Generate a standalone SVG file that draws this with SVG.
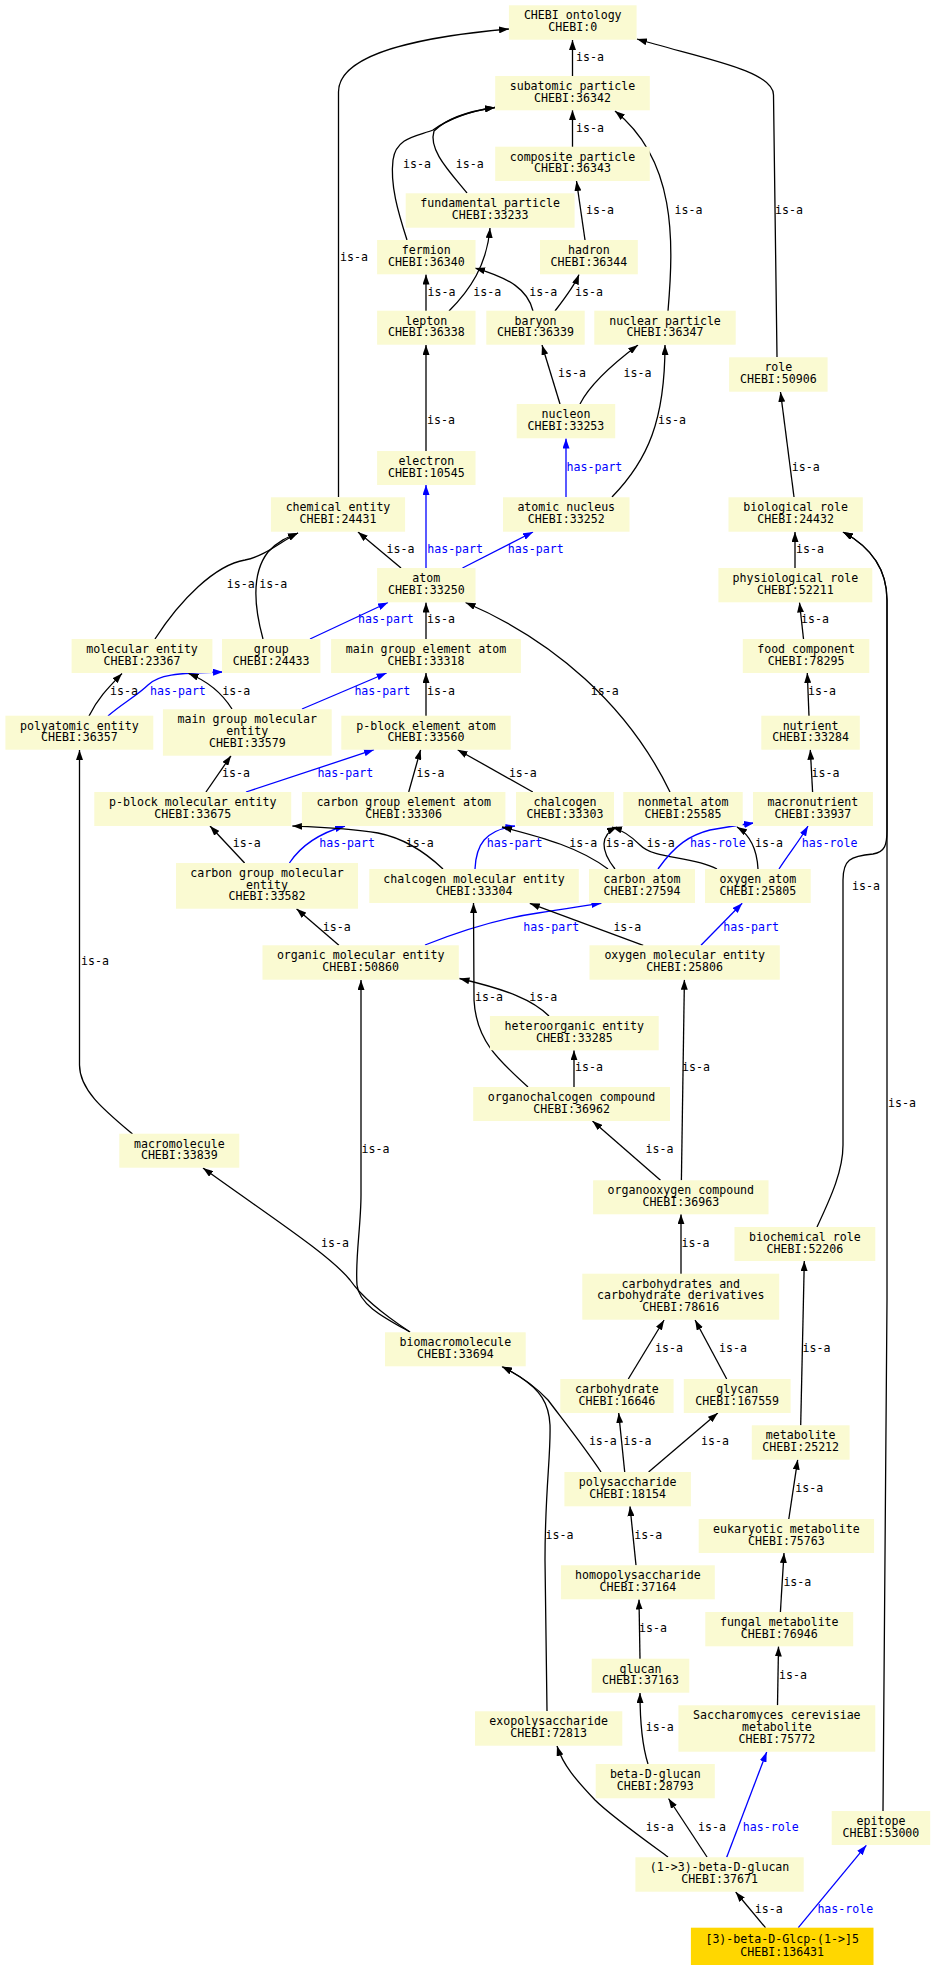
<svg xmlns="http://www.w3.org/2000/svg" width="935" height="1971" viewBox="0 0 935 1971">
<style>
.n rect{fill:#FAFAD2;stroke:none}
.g rect{fill:#FFD700}
.n text,.l text{font-family:"DejaVu Sans Mono",monospace;font-size:11.6px;fill:#000}
.n text{text-anchor:middle}
.e path{fill:none;stroke:#000;stroke-width:1.3;marker-end:url(#ak)}
.e path.b{stroke:#0000FF;marker-end:url(#ab)}
.l text.b{fill:#0000FF}
</style>
<defs>
<marker id="ak" viewBox="0 0 10 7" refX="10" refY="3.5" markerWidth="10" markerHeight="7" markerUnits="userSpaceOnUse" orient="auto"><path d="M0,0L10,3.5L0,7z" fill="#000"/></marker>
<marker id="ab" viewBox="0 0 10 7" refX="10" refY="3.5" markerWidth="10" markerHeight="7" markerUnits="userSpaceOnUse" orient="auto"><path d="M0,0L10,3.5L0,7z" fill="#0000FF"/></marker>
</defs>
<rect width="935" height="1971" fill="#fff"/>
<g id="edges" class="e">
<path d="M572.5,76L572.5,40"/>
<path d="M338.5,497L338.5,92C338.5,50 440,35 509,29"/>
<path d="M777,357L773.5,95C773.5,70 700,58 637,39"/>
<path d="M572.5,147L572.5,110"/>
<path d="M407,240C398,212 390,185 393,160C396,137 418,136 433,130C450,118 470,111 495,107.5"/>
<path d="M467,193C450,172 428,150 434,131C448,117 470,111 495,107.5"/>
<path d="M585,240L576.5,181"/>
<path d="M668,311C674,240 676,160 615,111"/>
<path d="M426,311L426,274.5"/>
<path d="M449,311C470,290 487,265 490,228"/>
<path d="M533,311C528,290 510,278 475,268"/>
<path d="M555,311C565,298 575,285 579,274.5"/>
<path d="M426,451L426,345"/>
<path d="M560,404L542,345"/>
<path d="M580,404C592,380 622,357 638,345"/>
<path d="M612,497C648,460 665,420 665,345"/>
<path class="b" d="M566,497L566,438.5"/>
<path d="M794,497L780.5,392"/>
<path d="M401,568L358,532"/>
<path class="b" d="M426,568L426,485"/>
<path class="b" d="M462.5,568L533,532"/>
<path d="M795,568L795,532"/>
<path d="M155,639C180,600 215,565 245,560C265,556 280,542 298,533"/>
<path d="M263,639C255,610 250,575 268,552C278,541 288,537 298,533"/>
<path class="b" d="M310,639L388,602.5"/>
<path d="M426,639L426,602.5"/>
<path d="M670,792C628,705 553,640 465.5,602.5"/>
<path d="M803.5,639L799.5,602.5"/>
<path d="M89,716C98,698 108,688 122,673.5"/>
<path class="b" d="M108,716C120,705 138,695 148,685C158,675 175,673 223,672"/>
<path d="M232,709C220,690 205,680 188.5,673.5"/>
<path class="b" d="M302,709L386.6,673"/>
<path d="M426,716L426,673"/>
<path d="M809,716L807.3,673"/>
<path d="M206,792L231,755.7"/>
<path class="b" d="M246,792L374,749.7"/>
<path d="M408.7,792L420.6,749.7"/>
<path d="M532.8,792L457.6,749.7"/>
<path d="M812.6,792L810.3,749.7"/>
<path d="M244.6,863L210,826"/>
<path class="b" d="M289.4,863C298,850 313,835 345,826"/>
<path d="M443,869C423,850 403,838 378,833C350,828 320,827 292.4,826"/>
<path class="b" d="M475,869C476,845 485,830 515,826"/>
<path d="M608,869C580,848 545,838 502,827"/>
<path d="M615,869C600,850 600,835 617,827"/>
<path d="M717,869C690,855 655,860 640,845C630,835 622,830 612,827"/>
<path class="b" d="M658,869C675,845 690,835 710,830C725,827 740,825 754,823"/>
<path d="M758,869C757,850 750,835 737,827"/>
<path class="b" d="M779,869C790,852 800,840 808,826"/>
<path d="M338.9,945.3L296.5,908.7"/>
<path class="b" d="M425,945C463,930 503,918 538,913C572,908 588,905 601.4,903.3"/>
<path d="M643.2,945.3L529.8,903.3"/>
<path class="b" d="M701,945.3L742.2,903.3"/>
<path d="M549,1016C533,1000 508,990 459.5,978.5"/>
<path d="M528,1087C498,1060 476,1040 474,1000L473.5,903"/>
<path d="M574,1087L574,1050.3"/>
<path d="M681.4,1180.3L684.4,979.7"/>
<path d="M660.5,1180.3L592.5,1121"/>
<path d="M132.5,1134C104,1110 79.5,1090 79.5,1065L79.5,750"/>
<path d="M410,1332C385,1318 359,1305 357,1285C355,1260 361,1225 361,1195L361,980"/>
<path d="M410,1332C380,1312 362,1297 350,1280C330,1255 268,1215 203,1168"/>
<path d="M681,1274L681,1214.3"/>
<path d="M817,1227C832,1195 843,1170 843,1145L843,880C843,860 850,856 873,854C885,852 887,845 887,830L887,600C887,565 867,545 843,532"/>
<path d="M883,1811C885,1700 887,1500 887,1300L887,600C887,565 867,545 843,532"/>
<path d="M628.3,1379L664.1,1320"/>
<path d="M726.7,1379L695.1,1320"/>
<path d="M800.7,1425.3L804.3,1261"/>
<path d="M601,1472C583,1445 563,1420 548,1400C534,1385 519,1375 502,1366.5"/>
<path d="M624.7,1472L618.7,1413"/>
<path d="M648.6,1472L717.8,1413"/>
<path d="M788.8,1519L797.7,1459.7"/>
<path d="M636,1565.3L630,1506.3"/>
<path d="M547,1711L545,1560C545,1490 551,1455 550,1425C549,1403 540,1390 520,1377C512,1372 507,1369 502,1366.5"/>
<path d="M780.4,1612L784,1553"/>
<path d="M640,1659L639,1599.5"/>
<path d="M777.5,1705.3L778.5,1646.5"/>
<path d="M648,1764C642,1745 640,1725 640,1693"/>
<path d="M668,1857C638,1835 610,1815 595,1800C576,1780 563,1765 557,1746"/>
<path d="M707,1857L668.5,1798.5"/>
<path class="b" d="M726.7,1857.3L766.7,1752"/>
<path d="M765.5,1927.7L735.7,1892"/>
<path class="b" d="M798.3,1927.7L866.3,1845.3"/>
</g>
<g id="edge-labels" class="l">
<text x="576" y="61">is-a</text>
<text x="403" y="167.5">is-a</text>
<text x="455.7" y="167.5">is-a</text>
<text x="576" y="131.5">is-a</text>
<text x="586" y="213.5">is-a</text>
<text x="674.5" y="213.5">is-a</text>
<text x="775" y="213.5">is-a</text>
<text x="340" y="260.7">is-a</text>
<text x="427.5" y="295.7">is-a</text>
<text x="473.3" y="295.7">is-a</text>
<text x="529.3" y="295.7">is-a</text>
<text x="575" y="295.7">is-a</text>
<text x="558" y="377.3">is-a</text>
<text x="623.5" y="377.3">is-a</text>
<text x="427" y="424">is-a</text>
<text x="658.1" y="424">is-a</text>
<text class="b" x="566.5" y="471.3">has-part</text>
<text x="791.8" y="471.3">is-a</text>
<text x="386.6" y="553.3">is-a</text>
<text class="b" x="427.2" y="553.3">has-part</text>
<text class="b" x="507.8" y="553.3">has-part</text>
<text x="796" y="553.3">is-a</text>
<text x="226.7" y="588">is-a</text>
<text x="259.3" y="588">is-a</text>
<text class="b" x="358" y="623.3">has-part</text>
<text x="427" y="623.3">is-a</text>
<text x="801" y="623.3">is-a</text>
<text x="110" y="694.5">is-a</text>
<text class="b" x="150" y="694.5">has-part</text>
<text x="222.3" y="694.5">is-a</text>
<text class="b" x="354.4" y="694.5">has-part</text>
<text x="427" y="694.5">is-a</text>
<text x="590.7" y="694.5">is-a</text>
<text x="808" y="694.5">is-a</text>
<text x="222" y="777.3">is-a</text>
<text class="b" x="317.4" y="777.3">has-part</text>
<text x="416.5" y="777.3">is-a</text>
<text x="508.9" y="777.3">is-a</text>
<text x="811.5" y="777.3">is-a</text>
<text x="232.7" y="847.3">is-a</text>
<text class="b" x="319.2" y="847.3">has-part</text>
<text x="405.7" y="847.3">is-a</text>
<text class="b" x="486.7" y="847.3">has-part</text>
<text x="569.3" y="847.3">is-a</text>
<text x="605.7" y="847.3">is-a</text>
<text x="646.7" y="847.3">is-a</text>
<text class="b" x="690" y="847.3">has-role</text>
<text x="755" y="847.3">is-a</text>
<text class="b" x="801.7" y="847.3">has-role</text>
<text x="852" y="889.5">is-a</text>
<text x="322.8" y="930.7">is-a</text>
<text class="b" x="523.3" y="930.7">has-part</text>
<text x="613.4" y="930.7">is-a</text>
<text class="b" x="723.2" y="930.7">has-part</text>
<text x="81" y="965">is-a</text>
<text x="529.2" y="1001.3">is-a</text>
<text x="475" y="1001.3">is-a</text>
<text x="575" y="1071.3">is-a</text>
<text x="682" y="1071.3">is-a</text>
<text x="888" y="1107.3">is-a</text>
<text x="645.6" y="1153.3">is-a</text>
<text x="361.5" y="1153.3">is-a</text>
<text x="321" y="1247.3">is-a</text>
<text x="681.5" y="1247.3">is-a</text>
<text x="655.1" y="1352.3">is-a</text>
<text x="719" y="1352.3">is-a</text>
<text x="802.5" y="1352.3">is-a</text>
<text x="588.9" y="1445.3">is-a</text>
<text x="623.5" y="1445.3">is-a</text>
<text x="701.1" y="1445.3">is-a</text>
<text x="795.3" y="1492.3">is-a</text>
<text x="545.5" y="1539.3">is-a</text>
<text x="634.3" y="1539.3">is-a</text>
<text x="783.4" y="1585.7">is-a</text>
<text x="639" y="1632.3">is-a</text>
<text x="779" y="1679.3">is-a</text>
<text x="645.7" y="1731.3">is-a</text>
<text x="645.7" y="1831.3">is-a</text>
<text x="698.1" y="1831.3">is-a</text>
<text class="b" x="742.8" y="1831.3">has-role</text>
<text x="754.8" y="1913.3">is-a</text>
<text class="b" x="817.4" y="1913.3">has-role</text>
</g>
<g id="n1" class="n"><rect x="508.9" y="5.3" width="127.7" height="34.4"/><text x="572.75" y="19.1">CHEBI ontology</text><text x="572.75" y="30.9">CHEBI:0</text></g>
<g id="n2" class="n"><rect x="495.2" y="76" width="154.6" height="34.3"/><text x="572.5" y="89.8">subatomic particle</text><text x="572.5" y="101.6">CHEBI:36342</text></g>
<g id="n3" class="n"><rect x="495.2" y="146.7" width="154.6" height="34.3"/><text x="572.5" y="160.5">composite particle</text><text x="572.5" y="172.3">CHEBI:36343</text></g>
<g id="n4" class="n"><rect x="405.7" y="193.3" width="168.9" height="34.4"/><text x="490.15" y="207.1">fundamental particle</text><text x="490.15" y="218.9">CHEBI:33233</text></g>
<g id="n5" class="n"><rect x="377.1" y="240" width="98.4" height="34.3"/><text x="426.3" y="253.8">fermion</text><text x="426.3" y="265.6">CHEBI:36340</text></g>
<g id="n6" class="n"><rect x="540" y="240" width="97.8" height="34.3"/><text x="588.9" y="253.8">hadron</text><text x="588.9" y="265.6">CHEBI:36344</text></g>
<g id="n7" class="n"><rect x="377.1" y="310.7" width="98.4" height="34"/><text x="426.3" y="324.5">lepton</text><text x="426.3" y="336.3">CHEBI:36338</text></g>
<g id="n8" class="n"><rect x="486.3" y="310.7" width="98.4" height="34"/><text x="535.5" y="324.5">baryon</text><text x="535.5" y="336.3">CHEBI:36339</text></g>
<g id="n9" class="n"><rect x="594.3" y="310.7" width="141.4" height="34"/><text x="665" y="324.5">nuclear particle</text><text x="665" y="336.3">CHEBI:36347</text></g>
<g id="n10" class="n"><rect x="729.1" y="357.3" width="98.5" height="34.4"/><text x="778.35" y="371.1">role</text><text x="778.35" y="382.9">CHEBI:50906</text></g>
<g id="n11" class="n"><rect x="516.7" y="404" width="98.5" height="34.3"/><text x="565.95" y="417.8">nucleon</text><text x="565.95" y="429.6">CHEBI:33253</text></g>
<g id="n12" class="n"><rect x="377.1" y="451" width="98.4" height="34"/><text x="426.3" y="464.8">electron</text><text x="426.3" y="476.6">CHEBI:10545</text></g>
<g id="n13" class="n"><rect x="270.9" y="497.3" width="134.2" height="34.4"/><text x="338" y="511.1">chemical entity</text><text x="338" y="522.9">CHEBI:24431</text></g>
<g id="n14" class="n"><rect x="503" y="497.3" width="126.5" height="34.4"/><text x="566.25" y="511.1">atomic nucleus</text><text x="566.25" y="522.9">CHEBI:33252</text></g>
<g id="n15" class="n"><rect x="728.5" y="497.3" width="134.3" height="34.4"/><text x="795.65" y="511.1">biological role</text><text x="795.65" y="522.9">CHEBI:24432</text></g>
<g id="n16" class="n"><rect x="377.1" y="568" width="98.4" height="34.3"/><text x="426.3" y="581.8">atom</text><text x="426.3" y="593.6">CHEBI:33250</text></g>
<g id="n17" class="n"><rect x="718.4" y="568" width="153.9" height="34.3"/><text x="795.35" y="581.8">physiological role</text><text x="795.35" y="593.6">CHEBI:52211</text></g>
<g id="n18" class="n"><rect x="71.6" y="639" width="140.8" height="34"/><text x="142" y="652.8">molecular entity</text><text x="142" y="664.6">CHEBI:23367</text></g>
<g id="n19" class="n"><rect x="222" y="639" width="98.4" height="34"/><text x="271.2" y="652.8">group</text><text x="271.2" y="664.6">CHEBI:24433</text></g>
<g id="n20" class="n"><rect x="331.1" y="639" width="189.8" height="34"/><text x="426" y="652.8">main group element atom</text><text x="426" y="664.6">CHEBI:33318</text></g>
<g id="n21" class="n"><rect x="742.8" y="639" width="126.5" height="34"/><text x="806.05" y="652.8">food component</text><text x="806.05" y="664.6">CHEBI:78295</text></g>
<g id="n22" class="n"><rect x="5.4" y="715.7" width="147.9" height="34"/><text x="79.35" y="729.5">polyatomic entity</text><text x="79.35" y="741.3">CHEBI:36357</text></g>
<g id="n23" class="n"><rect x="162.9" y="709.3" width="168.8" height="46.4"/><text x="247.3" y="723.1">main group molecular</text><text x="247.3" y="734.9">entity</text><text x="247.3" y="746.7">CHEBI:33579</text></g>
<g id="n24" class="n"><rect x="341.3" y="715.7" width="169.4" height="34"/><text x="426" y="729.5">p-block element atom</text><text x="426" y="741.3">CHEBI:33560</text></g>
<g id="n25" class="n"><rect x="761.3" y="715.7" width="98.5" height="34"/><text x="810.55" y="729.5">nutrient</text><text x="810.55" y="741.3">CHEBI:33284</text></g>
<g id="n26" class="n"><rect x="94.3" y="792" width="196.9" height="34"/><text x="192.75" y="805.8">p-block molecular entity</text><text x="192.75" y="817.6">CHEBI:33675</text></g>
<g id="n27" class="n"><rect x="301.9" y="792" width="203.5" height="34"/><text x="403.65" y="805.8">carbon group element atom</text><text x="403.65" y="817.6">CHEBI:33306</text></g>
<g id="n28" class="n"><rect x="516" y="792" width="98" height="34"/><text x="565" y="805.8">chalcogen</text><text x="565" y="817.6">CHEBI:33303</text></g>
<g id="n29" class="n"><rect x="623.3" y="792" width="119.4" height="34"/><text x="683" y="805.8">nonmetal atom</text><text x="683" y="817.6">CHEBI:25585</text></g>
<g id="n30" class="n"><rect x="753" y="792" width="119.9" height="34"/><text x="812.95" y="805.8">macronutrient</text><text x="812.95" y="817.6">CHEBI:33937</text></g>
<g id="n31" class="n"><rect x="176" y="863" width="182" height="45.7"/><text x="267" y="876.8">carbon group molecular</text><text x="267" y="888.6">entity</text><text x="267" y="900.4">CHEBI:33582</text></g>
<g id="n32" class="n"><rect x="369.3" y="869" width="209.5" height="34"/><text x="474.05" y="882.8">chalcogen molecular entity</text><text x="474.05" y="894.6">CHEBI:33304</text></g>
<g id="n33" class="n"><rect x="589" y="869" width="106" height="34"/><text x="642" y="882.8">carbon atom</text><text x="642" y="894.6">CHEBI:27594</text></g>
<g id="n34" class="n"><rect x="705" y="869" width="105.7" height="34"/><text x="757.85" y="882.8">oxygen atom</text><text x="757.85" y="894.6">CHEBI:25805</text></g>
<g id="n35" class="n"><rect x="262.5" y="945.3" width="196.3" height="34.4"/><text x="360.65" y="959.1">organic molecular entity</text><text x="360.65" y="970.9">CHEBI:50860</text></g>
<g id="n36" class="n"><rect x="589.5" y="945.3" width="190.3" height="34.4"/><text x="684.65" y="959.1">oxygen molecular entity</text><text x="684.65" y="970.9">CHEBI:25806</text></g>
<g id="n37" class="n"><rect x="489.9" y="1016" width="168.8" height="34.3"/><text x="574.3" y="1029.8">heteroorganic entity</text><text x="574.3" y="1041.6">CHEBI:33285</text></g>
<g id="n38" class="n"><rect x="473.2" y="1087" width="196.8" height="34"/><text x="571.6" y="1100.8">organochalcogen compound</text><text x="571.6" y="1112.6">CHEBI:36962</text></g>
<g id="n39" class="n"><rect x="119.3" y="1133.7" width="120" height="34"/><text x="179.3" y="1147.5">macromolecule</text><text x="179.3" y="1159.3">CHEBI:33839</text></g>
<g id="n40" class="n"><rect x="593.1" y="1180.3" width="175.4" height="34"/><text x="680.8" y="1194.1">organooxygen compound</text><text x="680.8" y="1205.9">CHEBI:36963</text></g>
<g id="n41" class="n"><rect x="734.5" y="1227" width="140.8" height="34"/><text x="804.9" y="1240.8">biochemical role</text><text x="804.9" y="1252.6">CHEBI:52206</text></g>
<g id="n42" class="n"><rect x="582.3" y="1273.7" width="196.9" height="46"/><text x="680.75" y="1287.5">carbohydrates and</text><text x="680.75" y="1299.3">carbohydrate derivatives</text><text x="680.75" y="1311.1">CHEBI:78616</text></g>
<g id="n43" class="n"><rect x="385" y="1332.3" width="140.7" height="34"/><text x="455.35" y="1346.1">biomacromolecule</text><text x="455.35" y="1357.9">CHEBI:33694</text></g>
<g id="n44" class="n"><rect x="560.3" y="1379" width="113.3" height="34"/><text x="616.95" y="1392.8">carbohydrate</text><text x="616.95" y="1404.6">CHEBI:16646</text></g>
<g id="n45" class="n"><rect x="683.8" y="1379" width="106.8" height="34"/><text x="737.2" y="1392.8">glycan</text><text x="737.2" y="1404.6">CHEBI:167559</text></g>
<g id="n46" class="n"><rect x="751.8" y="1425.3" width="97.8" height="34.4"/><text x="800.7" y="1439.1">metabolite</text><text x="800.7" y="1450.9">CHEBI:25212</text></g>
<g id="n47" class="n"><rect x="564.4" y="1472" width="126.5" height="34.3"/><text x="627.65" y="1485.8">polysaccharide</text><text x="627.65" y="1497.6">CHEBI:18154</text></g>
<g id="n48" class="n"><rect x="698.7" y="1519" width="175.4" height="34"/><text x="786.4" y="1532.8">eukaryotic metabolite</text><text x="786.4" y="1544.6">CHEBI:75763</text></g>
<g id="n49" class="n"><rect x="560.9" y="1565.3" width="153.9" height="34"/><text x="637.85" y="1579.1">homopolysaccharide</text><text x="637.85" y="1590.9">CHEBI:37164</text></g>
<g id="n50" class="n"><rect x="705.3" y="1612" width="147.9" height="34.3"/><text x="779.25" y="1625.8">fungal metabolite</text><text x="779.25" y="1637.6">CHEBI:76946</text></g>
<g id="n51" class="n"><rect x="591.7" y="1658.7" width="97.6" height="34"/><text x="640.5" y="1672.5">glucan</text><text x="640.5" y="1684.3">CHEBI:37163</text></g>
<g id="n52" class="n"><rect x="678.4" y="1705.3" width="196.9" height="46.4"/><text x="776.85" y="1719.1">Saccharomyces cerevisiae</text><text x="776.85" y="1730.9">metabolite</text><text x="776.85" y="1742.7">CHEBI:75772</text></g>
<g id="n53" class="n"><rect x="475" y="1711.3" width="147.3" height="34.4"/><text x="548.65" y="1725.1">exopolysaccharide</text><text x="548.65" y="1736.9">CHEBI:72813</text></g>
<g id="n54" class="n"><rect x="595.7" y="1764" width="119.1" height="34.3"/><text x="655.25" y="1777.8">beta-D-glucan</text><text x="655.25" y="1789.6">CHEBI:28793</text></g>
<g id="n55" class="n"><rect x="831.7" y="1811" width="98.5" height="34"/><text x="880.95" y="1824.8">epitope</text><text x="880.95" y="1836.6">CHEBI:53000</text></g>
<g id="n56" class="n"><rect x="635.4" y="1857.3" width="168.3" height="34.4"/><text x="719.55" y="1871.1">(1-&gt;3)-beta-D-glucan</text><text x="719.55" y="1882.9">CHEBI:37671</text></g>
<g id="n57" class="n g"><rect x="690.9" y="1927.7" width="182.6" height="37.3"/><text x="782.2" y="1942.7">[3)-beta-D-Glcp-(1-&gt;]5</text><text x="782.2" y="1955.7">CHEBI:136431</text></g>
</svg>
